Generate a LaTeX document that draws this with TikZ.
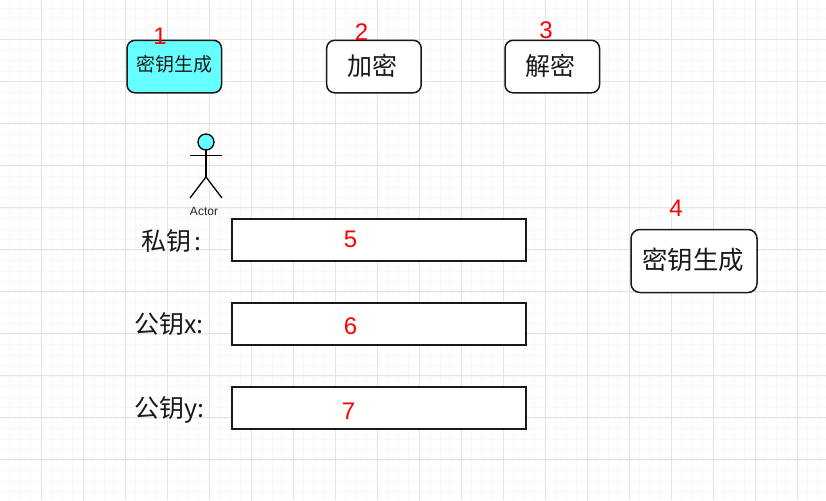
\documentclass[tikz,border=0pt]{standalone}
\usepackage{fontspec}
\setmainfont{Liberation Sans}
\newfontfamily\cjk{Noto Sans CJK SC}
\tikzset{
  x=1pt,y=-1pt,
  box/.style={draw=black!90,line width=1.5pt,rounded corners=8pt,fill=white,inner sep=0pt,outer sep=0pt,anchor=north west,text=black},
  field/.style={draw=black!90,line width=1.5pt,fill=white,inner sep=0pt,outer sep=0pt,anchor=north west,minimum width=294pt,minimum height=41.9pt},
  num/.style={text=red,font=\fontsize{24}{24}\selectfont,inner sep=0pt},
  lab/.style={text=black!90,font=\fontsize{25}{25}\selectfont\cjk,inner sep=0pt,anchor=base west},
  limb/.style={draw=black,line width=1.3pt},
}
\definecolor{minorg}{RGB}{247,247,247}
\definecolor{majorg}{RGB}{228,228,228}
\definecolor{cyanf}{RGB}{102,255,255}
\begin{document}
\begin{tikzpicture}
\useasboundingbox (0,0) rectangle (826,500);
\fill[white] (0,0) rectangle (826,500);
\foreach \i in {0,...,79}{\draw[minorg,line width=1pt] ({\i*10.5-1},0) -- ({\i*10.5-1},500);}
\foreach \i in {0,...,48}{\draw[minorg,line width=1pt] (0,{\i*10.5-2}) -- (826,{\i*10.5-2});}
\foreach \i in {0,...,19}{\draw[majorg,line width=1pt] ({41.5+\i*42},0) -- ({41.5+\i*42},500);}
\foreach \i in {0,...,11}{\draw[majorg,line width=1pt] (0,{39.5+\i*42}) -- (826,{39.5+\i*42});}

\node[box,fill=cyanf,minimum width=94.5pt,minimum height=52.5pt] (keygen) at (127,40.3) {};
\node[inner sep=0pt,font=\fontsize{19}{19}\selectfont\cjk,text=black!90] (keygent) at (174,64) {密钥生成};
\node[box,minimum width=94.5pt,minimum height=52.5pt] (enc) at (326.7,40.3) {};
\node[inner sep=0pt,font=\fontsize{25}{25}\selectfont\cjk,text=black!90] (enct) at (372,66) {加密};
\node[box,minimum width=94.5pt,minimum height=52.5pt] (dec) at (505,40.3) {};
\node[inner sep=0pt,font=\fontsize{25}{25}\selectfont\cjk,text=black!90] (dect) at (550.5,66) {解密};
\node[box,minimum width=126pt,minimum height=63pt,rounded corners=9pt] (keygen2) at (631,229.5) {};
\node[inner sep=0pt,font=\fontsize{25.4}{25.4}\selectfont\cjk,text=black!90] (keygen2t) at (693,260) {密钥生成};

\node[field] (priv) at (232,219) {};
\node[field] (pubx) at (232,303) {};
\node[field] (puby) at (232,387) {};

\node[lab] (lpriv) at (141,250) {私钥\hspace{3pt}:};
\node[lab] (lpubx) at (134,333.5) {公钥x:};
\node[lab] (lpuby) at (134,417.5) {公钥y:};

\node[num] (n1) at (160,36) {1};
\node[num] (n2) at (361.5,32) {2};
\node[num] (n3) at (546,30) {3};
\node[num] (n4) at (676,208) {4};
\node[num] (n5) at (350.5,239) {5};
\node[num] (n6) at (350.5,326) {6};
\node[num] (n7) at (348.5,411) {7};

% actor
\draw[limb,fill=cyanf] (206,142) circle (8pt);
\draw[limb] (206,150) -- (206,177);
\draw[limb] (190,155.5) -- (222,155.5);
\draw[limb] (190,198) -- (206,177) -- (222,198);
\node[inner sep=0pt,font=\fontsize{12}{12}\selectfont,text=black!85] (actor) at (204,211.5) {Actor};
\end{tikzpicture}
\end{document}
